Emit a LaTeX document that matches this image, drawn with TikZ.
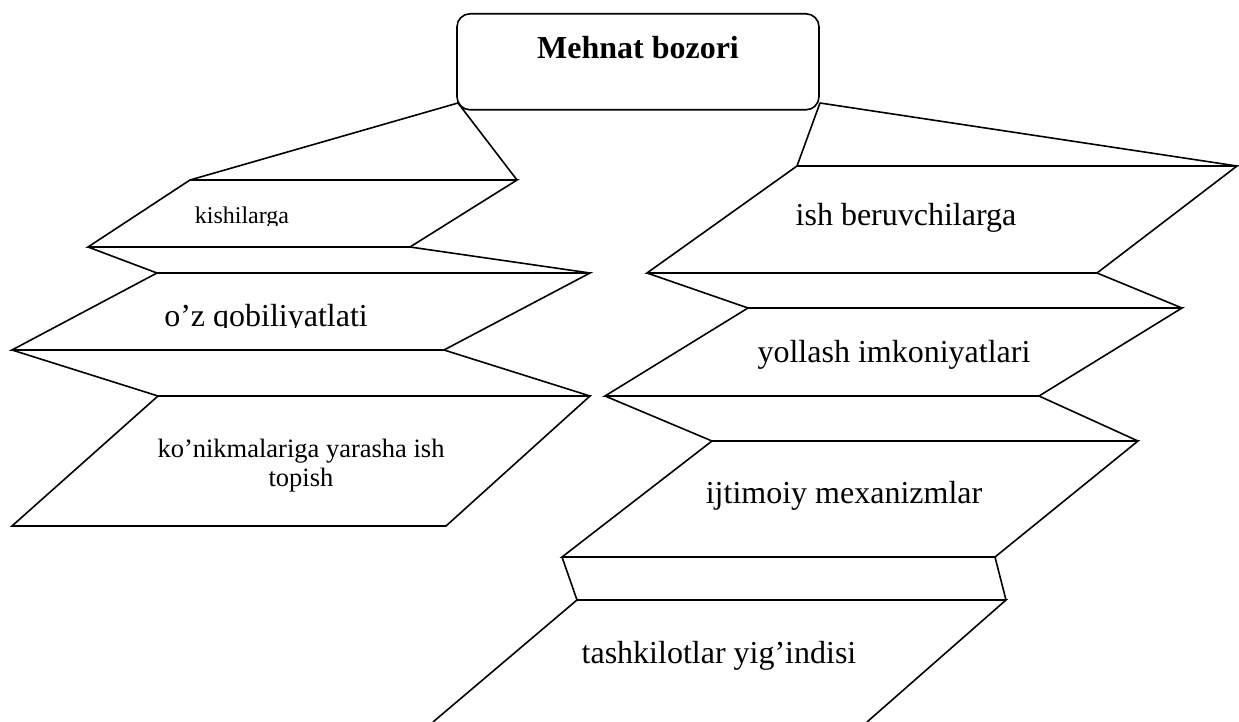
\documentclass[tikz,border=0pt]{standalone}
\usepackage{fontspec}
\setmainfont{Liberation Serif}
\usepackage{tikz}
\usetikzlibrary{shapes, arrows}
\tikzstyle{head} = [rectangle, draw = black, line width = 0.8pt, rounded corners = 6.5pt, minimum width = 181pt, inner sep = 0pt, text height = 22.5pt, text depth = 25.5pt, font = \fontsize{16}{19}\selectfont\bfseries]
\tikzstyle{big} = [inner sep = 0pt, anchor = base, font = \fontsize{16}{19}\selectfont]
\tikzstyle{small} = [inner sep = 0pt, anchor = base, font = \fontsize{12}{14}\selectfont]
\tikzstyle{mid} = [inner sep = 0pt, anchor = base, align = center, font = \fontsize{13.25}{15}\selectfont]
\tikzstyle{edge} = [draw, line width = 0.8pt]

\begin{document}
\begin{tikzpicture}[x = 0.5pt, y = -0.5pt]
    \useasboundingbox (0, 0) rectangle (1239, 722);
    \node[head, anchor = north] (bozor) at (638, 13) {Mehnat bozori};
    \coordinate (bl) at (458, 103);
    \coordinate (br) at (820, 103);

    \path[edge] (190, 180) coordinate (k1) -- (517, 180) coordinate (k2) -- (410, 247) coordinate (k3) -- (88, 247) coordinate (k4) -- cycle;
    \path[edge] (157, 273) coordinate (q1) -- (590, 273) coordinate (q2) -- (444, 350) coordinate (q3) -- (12, 350) coordinate (q4) -- cycle;
    \path[edge] (158, 396) coordinate (n1) -- (590, 396) coordinate (n2) -- (446, 526) coordinate (n3) -- (12, 526) coordinate (n4) -- cycle;
    \path[edge] (797, 166) coordinate (i1) -- (1237, 166) coordinate (i2) -- (1097, 273) coordinate (i3) -- (647, 273) coordinate (i4) -- cycle;
    \path[edge] (748, 308) coordinate (y1) -- (1182, 308) coordinate (y2) -- (1039, 396) coordinate (y3) -- (605, 396) coordinate (y4) -- cycle;
    \path[edge] (712, 441) coordinate (j1) -- (1138, 441) coordinate (j2) -- (995, 557) coordinate (j3) -- (562, 557) coordinate (j4) -- cycle;
    \path[edge] (433, 722) coordinate (t4) -- (577, 600) coordinate (t1) -- (1006, 600) coordinate (t2) -- (867, 722) coordinate (t3);

    \begin{scope}
        \clip (150, 190) rectangle (330, 226);
        \node[small] (kishi) at (242, 224) {kishilarga};
    \end{scope}
    \begin{scope}
        \clip (150, 290) rectangle (380, 328);
        \node[big] (qobil) at (266, 327) {o’z qobiliyatlati};
    \end{scope}
    \node[mid] (konik) at (301, 487) {ko’nikmalariga yarasha ish\\ topish};
    \node[big] (ishber) at (906, 226) {ish beruvchilarga};
    \node[big] (yollash) at (894, 363) {yollash imkoniyatlari};
    \node[big] (ijtim) at (844, 503) {ijtimoiy mexanizmlar};
    \node[big] (tashk) at (719, 663) {tashkilotlar yig’indisi};

    \path[edge] (bl) -- (k1);
    \path[edge] (bl) -- (k2);
    \path[edge] (br) -- (i1);
    \path[edge] (br) -- (i2);
    \path[edge] (k4) -- (q1);
    \path[edge] (k3) -- (q2);
    \path[edge] (q4) -- (n1);
    \path[edge] (q3) -- (n2);
    \path[edge] (i4) -- (y1);
    \path[edge] (i3) -- (y2);
    \path[edge] (y4) -- (j1);
    \path[edge] (y3) -- (j2);
    \path[edge] (j4) -- (t1);
    \path[edge] (j3) -- (t2);
\end{tikzpicture}
\end{document}
